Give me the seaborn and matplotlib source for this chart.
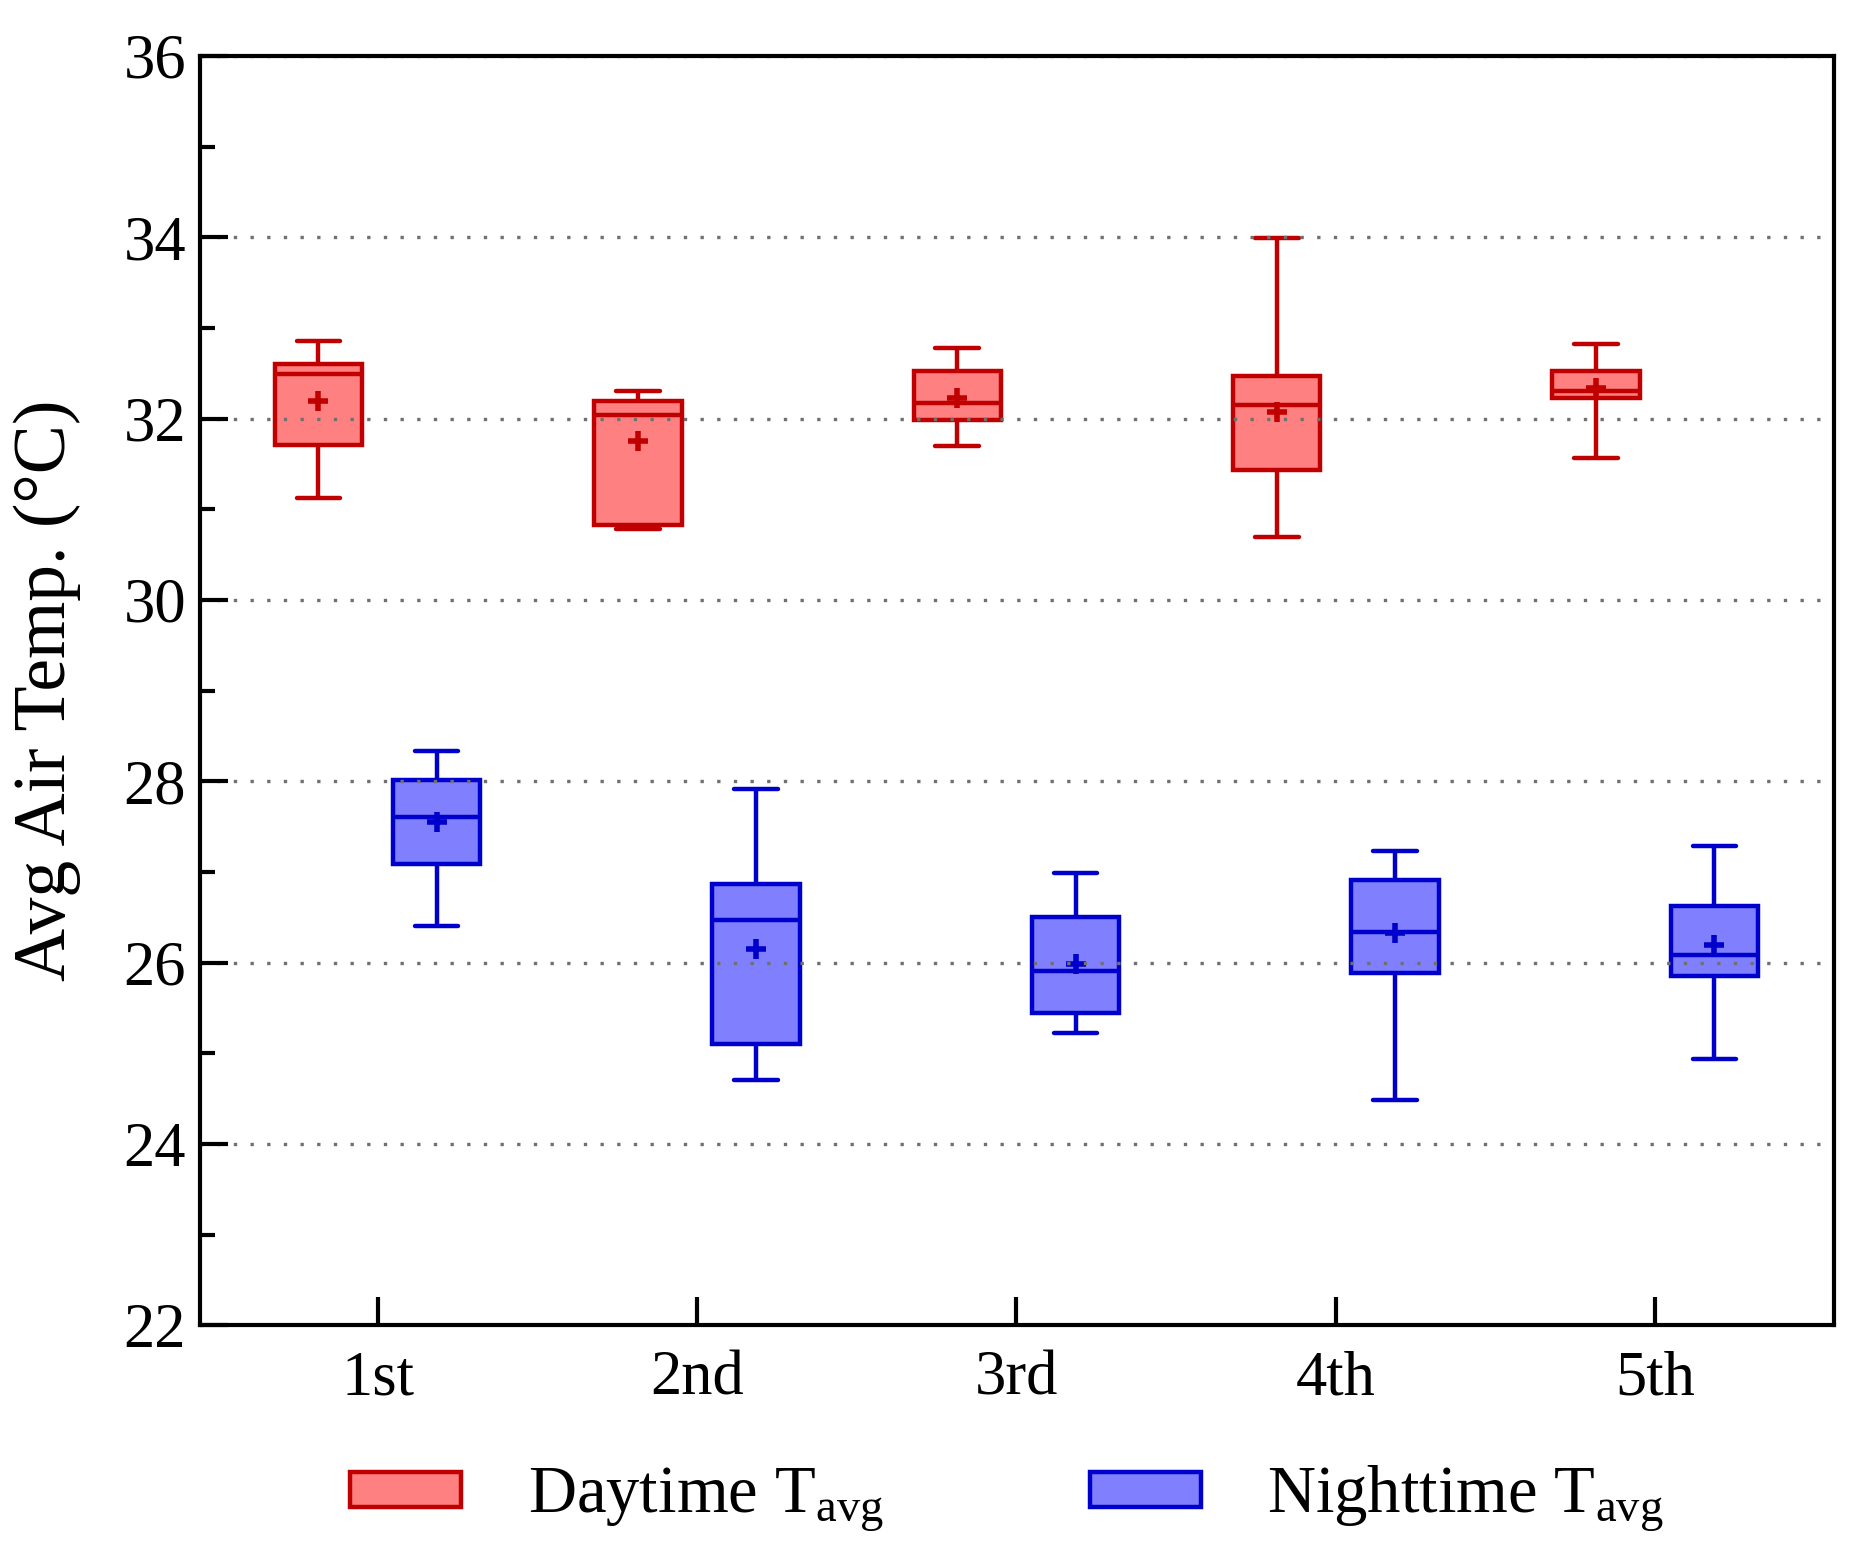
import numpy as np
import pandas as pd
import matplotlib
matplotlib.use("Agg")
import matplotlib.pyplot as plt
import seaborn as sns
from matplotlib.patches import Patch
from matplotlib.ticker import MultipleLocator

# -----------------------------
# Values
# -----------------------------
periods = ["1st", "2nd", "3rd", "4th", "5th"]
hue_order = ["Daytime", "Nighttime"]

# daytime boxes: whisker low, Q1, median, Q3, whisker high, mean
day_low = [31.12, 30.78, 31.70, 30.69, 31.56]
day_q1 = [31.71, 30.83, 31.98, 31.43, 32.23]
day_med = [32.49, 32.04, 32.17, 32.15, 32.30]
day_q3 = [32.60, 32.19, 32.53, 32.47, 32.52]
day_high = [32.86, 32.30, 32.78, 33.99, 32.82]
day_mean = [32.19, 31.75, 32.23, 32.07, 32.34]

# nighttime boxes
night_low = [26.41, 24.71, 25.22, 24.49, 24.94]
night_q1 = [27.09, 25.10, 25.45, 25.89, 25.85]
night_med = [27.61, 26.47, 25.91, 26.34, 26.08]
night_q3 = [28.02, 26.87, 26.50, 26.91, 26.63]
night_high = [28.33, 27.91, 26.99, 27.23, 27.29]
night_mean = [27.55, 26.15, 25.98, 26.33, 26.19]

face = {"Daytime": "#FF8080", "Nighttime": "#8080FF"}
edge = {"Daytime": "#C00000", "Nighttime": "#0000CC"}

# long table for seaborn (five summary points per box -> exact quartiles)
rows = []
for name, stats in [("Daytime", (day_low, day_q1, day_med, day_q3, day_high)),
                    ("Nighttime", (night_low, night_q1, night_med, night_q3, night_high))]:
    for i, p in enumerate(periods):
        for s in stats:
            rows.append({"period": p, "series": name, "temp": s[i]})
df = pd.DataFrame(rows)

means = pd.DataFrame({
    "period": periods * 2,
    "series": ["Daytime"] * len(periods) + ["Nighttime"] * len(periods),
    "temp": day_mean + night_mean,
})

# -----------------------------
# Style
# -----------------------------
sns.set_style("ticks")
plt.rcParams["font.family"] = ["Liberation Serif", "DejaVu Serif"]
plt.rcParams["axes.linewidth"] = 3.0
for key in ["text.color", "axes.labelcolor", "xtick.color", "ytick.color", "axes.edgecolor"]:
    plt.rcParams[key] = "black"

lw = 3.2

fig = plt.figure(figsize=(18.58, 15.52), dpi=100)
ax = fig.add_axes([0.1076, 0.146, 0.8794, 0.818])

sns.boxplot(data=df, x="period", y="temp", hue="series", order=periods,
            hue_order=hue_order, palette=face, saturation=1, width=0.74,
            gap=0.26, whis=(0, 100), linewidth=lw, showfliers=False,
            legend=False, ax=ax)

for cont, h in zip(ax.containers, hue_order):
    for b in cont.boxes:
        b.set_edgecolor(edge[h])
        b.set_linewidth(lw)
    for ln in list(cont.medians) + list(cont.whiskers) + list(cont.caps):
        ln.set_color(edge[h])
        ln.set_linewidth(lw)

sns.pointplot(data=means, x="period", y="temp", hue="series", order=periods,
              hue_order=hue_order, palette=edge, dodge=0.37, markers="+",
              linestyles="none", errorbar=None, markersize=15,
              markeredgewidth=4, legend=False, ax=ax)

# -----------------------------
# Axes
# -----------------------------
ax.set_xlim(-0.556, 4.559)
ax.set_ylim(22, 36)
ax.set_yticks(np.arange(22, 37, 2))
ax.yaxis.set_minor_locator(MultipleLocator(1))
ax.tick_params(axis="both", which="major", direction="in", length=20,
               width=3.0, labelsize=45, color="black", labelcolor="black")
ax.tick_params(axis="y", which="major", pad=10)
ax.tick_params(axis="x", which="major", pad=18)
ax.tick_params(axis="y", which="minor", direction="in", length=11, width=3.0)
ax.tick_params(top=False, right=False)

ax.set_axisbelow(False)
ax.yaxis.grid(True, linestyle=(0, (1, 4)), color="#707070", linewidth=2.4)
for sp in ax.spines.values():
    sp.set_visible(True)
    sp.set_color("black")
    sp.set_linewidth(3.0)
    sp.set_zorder(3)

ax.set_xlabel("")
ax.set_ylabel("Avg Air Temp. (°C)", fontsize=53, color="black")
ax.yaxis.set_label_coords(-0.073, 0.5)

handles = [Patch(facecolor=face[h], edgecolor=edge[h], linewidth=lw) for h in hue_order]
labels = [r"Daytime $\mathregular{T_{avg}}$", r"Nighttime $\mathregular{T_{avg}}$"]
fig.legend(handles, labels, loc="center", bbox_to_anchor=(0.542, 0.034),
           ncol=2, frameon=False, fontsize=48, handlelength=1.66,
           handleheight=0.45, handletextpad=1.0, columnspacing=3.1)

fig.savefig("out.png", dpi=100)
